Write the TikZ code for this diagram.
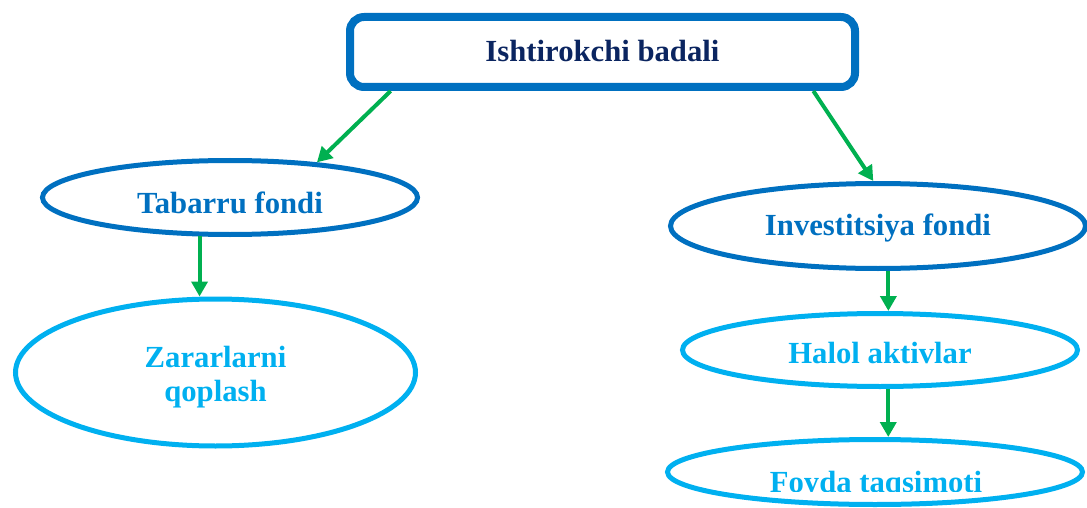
\documentclass[tikz,border=0pt]{standalone}
\usepackage{fontspec}
\setmainfont{Liberation Serif}
\usetikzlibrary{shapes.geometric,arrows.meta,calc}
\definecolor{dblue}{HTML}{0070C0}
\definecolor{lblue}{HTML}{00B0F0}
\definecolor{agreen}{HTML}{00B050}
\definecolor{navy}{HTML}{0B2560}
\tikzset{
  lbl/.style={font=\bfseries\fontsize{30.7}{34}\selectfont},
  topbox/.style={draw=dblue, line width=8pt, rounded corners=14pt, rectangle, inner sep=0pt, text=navy, lbl},
  darkell/.style={ellipse, draw=dblue, line width=5pt, inner sep=0pt, text=dblue, lbl},
  lightell/.style={ellipse, draw=lblue, line width=5pt, inner sep=0pt, text=lblue, lbl},
  arr/.style={draw=agreen, line width=4pt, -{Triangle[length=15pt,width=16pt]}, shorten <=0pt}
}
\begin{document}
\begin{tikzpicture}[x=1pt,y=-1pt]
\useasboundingbox (0,0) rectangle (1087,508);
\node[topbox, minimum width=505pt, minimum height=70pt, text height=20pt, text depth=0pt] (top) at (602.5,52) {Ishtirokchi badali};
\node[darkell, minimum width=375pt, minimum height=74pt, text height=31pt, text depth=0pt] (tab) at (230,197.5) {Tabarru fondi};
\node[darkell, minimum width=415pt, minimum height=85pt, text height=18pt, text depth=0pt] (inv) at (878,226) {Investitsiya fondi};
\node[lightell, minimum width=395pt, minimum height=73pt, text height=26pt, text depth=0pt] (hal) at (880,350) {Halol aktivlar};
\node[lightell, minimum width=400pt, minimum height=147pt] (zar) at (215.5,372.5) {\raisebox{-11.4pt}[0pt][0pt]{\begin{tabular}{@{}c@{}}Zararlarni\\qoplash\end{tabular}}};
\node[lightell, minimum width=415pt, minimum height=65pt] (foy) at (875,472) {};
\begin{scope}
\clip (600,430) rectangle (1087,491);
\node[lbl, text=lblue, inner sep=0pt, anchor=base] (foyt) at (876,492) {Foyda taqsimoti};
\end{scope}
\draw[arr] ($(top.south west)!0.087!(top.south east)$) -- (tab.22);
\draw[arr] ($(top.south west)!0.911!(top.south east)$) -- (inv.96);
\draw[arr] (tab.232) -- (tab.232 |- zar.north);
\draw[arr] (inv.283) -- (inv.283 |- hal.north);
\draw[arr] (hal.282) -- (hal.282 |- foy.north);
\end{tikzpicture}
\end{document}
